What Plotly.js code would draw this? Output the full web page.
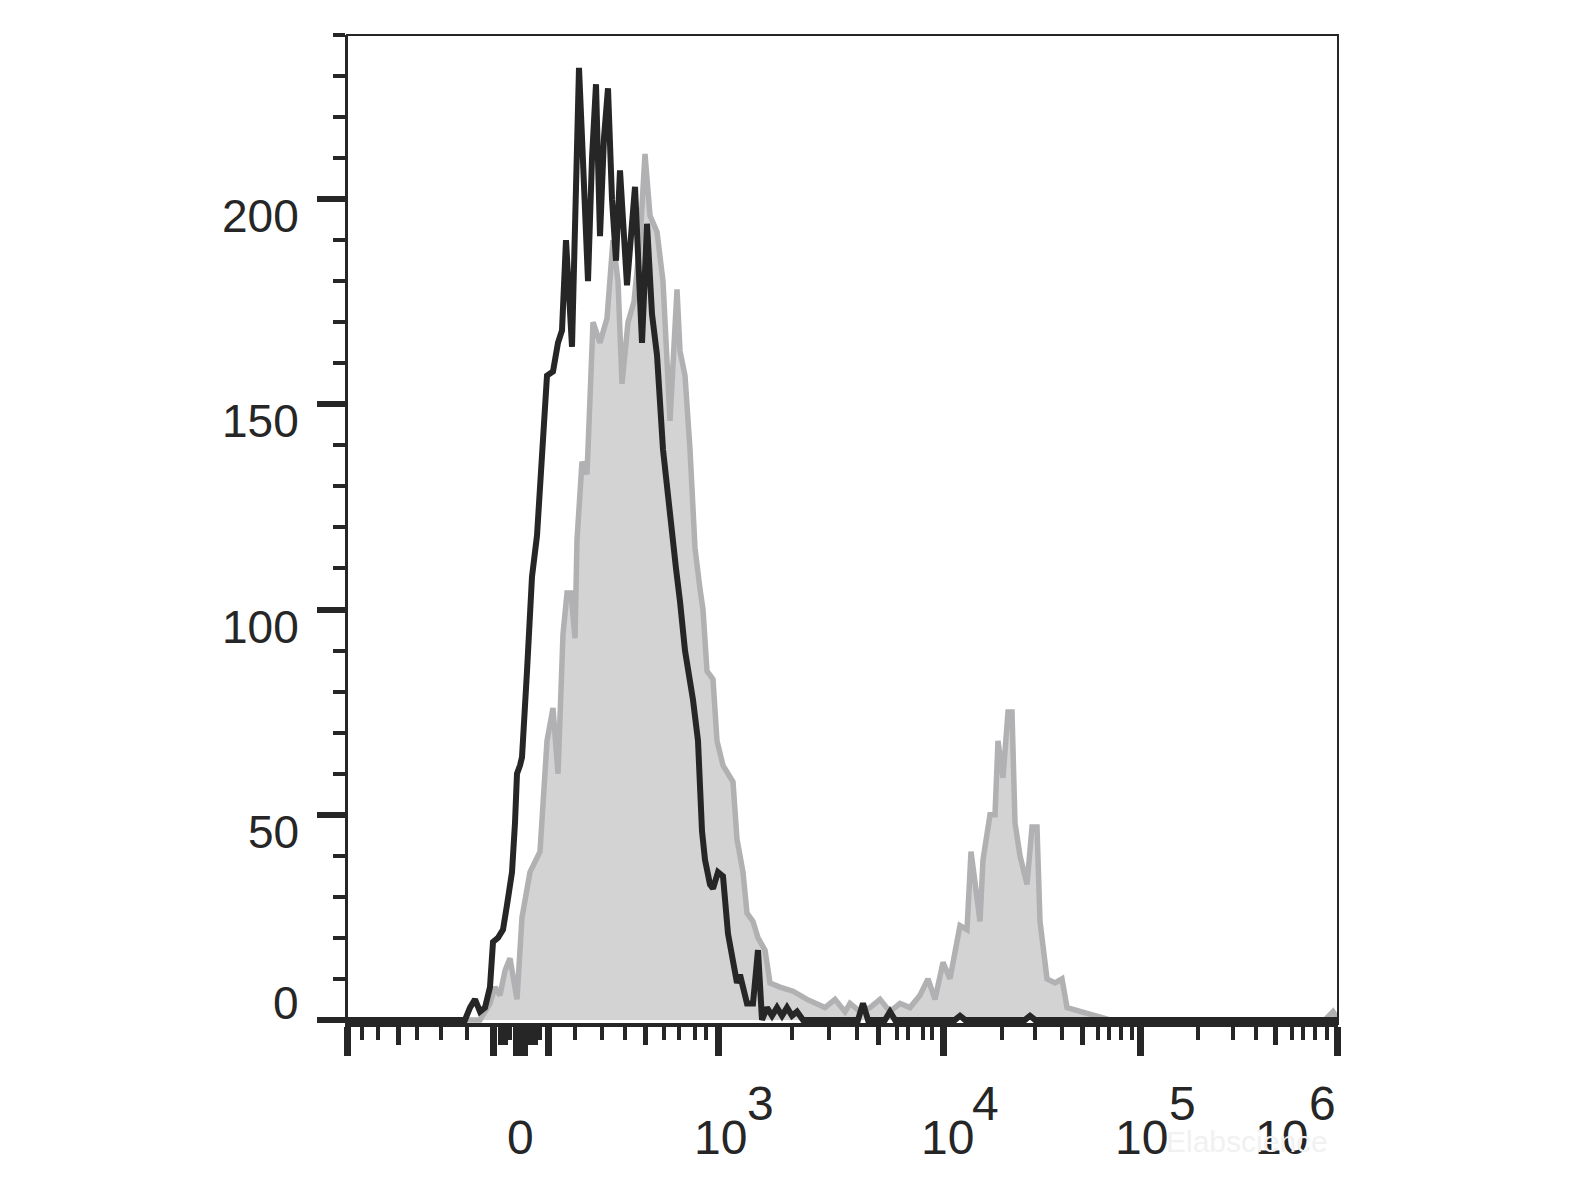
<!DOCTYPE html>
<html>
<head>
<meta charset="utf-8">
<script src="https://cdn.plot.ly/plotly-3.0.1.min.js"></script>
<style>
  html, body { margin: 0; padding: 0; background: #ffffff; }
  #chart { width: 1576px; height: 1182px; }
</style>
</head>
<body>
<div id="chart"></div>
<script>
// ---- Data (x in display channels of the biexponential axis, y = event count) ----
var controlChannel = [0,118,123,128,133,138,143,146,151,156,160,165,168,170,173,175,180,185,190,195,200,206,211,215,219,225,229,232,235,241,245,249,253,257,261,265,269,273,280,288,295,300,305,310,316,323,329,333,338,346,351,355,358,363,366,371,376,381,386,390,393,400,406,411,415,420,425,430,435,440,445,450,456,511,516,521,538,543,548,608,613,618,678,683,688,991];
var controlCount   = [0,0,3,5,2,3,8,19,20,22,28,36,48,60,62,64,85,108,118,140,157,158,165,168,190,164,200,232,215,180,210,228,191,215,227,200,185,207,179,203,165,194,172,162,139,122,110,102,90,78,68,46,39,33,32,36,35,21,14,9,11,4,4,17,0,3,1,3,1,3,1,2,0,0,4,0,0,2,0,0,1,0,0,1,0,0];

var stainedChannel = [0,133,143,148,153,158,163,167,170,175,183,193,200,206,211,216,220,224,228,230,235,240,246,253,260,266,271,275,281,287,293,298,303,310,316,323,330,333,338,343,348,353,356,360,366,370,376,386,390,396,400,406,411,418,423,433,446,460,468,478,488,498,503,513,523,533,543,553,563,573,581,588,596,603,613,620,624,630,633,636,643,648,651,656,661,665,668,673,680,685,690,693,700,708,715,720,733,750,763,978,986,991];
var stainedCount   = [0,0,4,8,6,12,15,8,5,25,36,41,68,76,60,94,104,104,93,117,136,133,170,165,171,190,180,155,170,175,190,211,196,192,180,146,178,163,157,139,115,105,100,85,83,68,62,58,44,36,26,24,20,17,9,8,7,5,4,3,5,2,4,2,3,5,2,4,3,6,10,5,14,10,23,22,41,31,24,39,50,50,68,59,75,75,48,40,33,47,47,24,10,9,10,3,2,1,0,0,2,0];

// ---- Axis ticks ----
var yMajorTicks = [0, 50, 100, 150, 200];
var yTickLabels = ["0", "50", "100", "150", "200"];
var xMajorTicks  = [0,146,169,173,177,201,371,596,793,990];
var xMediumTicks = [51,153,158,183,188,298,531,735,928];
var xMinorTicks  = [15,31,70,94,120,163,193,228,255,278,317,332,348,359,445,482,510,550,561,576,585,655,688,715,751,762,774,785,851,886,909,945,956,968,980];
var xLabelBase   = ["0", "10", "10", "10", "10"];
var xLabelBaseAt = [173, 373, 600, 794, 934];
var xLabelExp    = ["3", "4", "5", "6"];
var xLabelExpAt  = [398, 623, 820, 960];

var ink = '#262626';
var FONT = 'Liberation Sans, Arial, Helvetica, sans-serif';

var traces = [
  {
    x: stainedChannel, y: stainedCount, type: 'scatter', mode: 'lines',
    fill: 'tozeroy', fillcolor: '#d3d3d3',
    line: { color: '#b1b1b3', width: 5.5, shape: 'linear' },
    hoverinfo: 'skip', showlegend: false
  },
  {
    x: controlChannel, y: controlCount, type: 'scatter', mode: 'lines',
    line: { color: ink, width: 6, shape: 'linear' },
    hoverinfo: 'skip', showlegend: false
  }
];

var annotations = [];
yMajorTicks.forEach(function (v, i) {
  annotations.push({
    xref: 'paper', x: 0, xanchor: 'right', xshift: -46,
    yref: 'y', y: v, yanchor: 'middle', yshift: (v === 0 ? 17 : -17),
    text: yTickLabels[i], showarrow: false,
    font: { family: FONT, size: 46, color: ink }
  });
});
xLabelBase.forEach(function (t, i) {
  annotations.push({
    xref: 'x', x: xLabelBaseAt[i], xanchor: 'center',
    yref: 'paper', y: 0, yanchor: 'middle', yshift: -113.5,
    text: t, showarrow: false,
    font: { family: FONT, size: 48, color: ink }
  });
});
xLabelExp.forEach(function (t, i) {
  annotations.push({
    xref: 'x', x: xLabelExpAt[i], xanchor: 'left',
    yref: 'paper', y: 0, yanchor: 'middle', yshift: -79.5,
    text: t, showarrow: false,
    font: { family: FONT, size: 48, color: ink }
  });
});
annotations.push({
  xref: 'paper', x: 1, xanchor: 'right', xshift: -8,
  yref: 'paper', y: 0, yanchor: 'middle', yshift: -117,
  text: 'Elabscience', showarrow: false,
  font: { family: FONT, size: 30, color: '#f1f1f1' }
});

var layout = {
  width: 1576, height: 1182,
  margin: { l: 347, r: 238, t: 35, b: 158, pad: 0 },
  paper_bgcolor: '#ffffff', plot_bgcolor: '#ffffff',
  showlegend: false,
  xaxis: {
    range: [0, 991], showgrid: false, zeroline: false,
    showline: true, linecolor: ink, linewidth: 3,
    ticks: 'outside', tickmode: 'array', tickvals: xMajorTicks,
    ticklen: 29, tickwidth: 7, tickcolor: ink, showticklabels: false,
    minor: { tickmode: 'array', tickvals: xMinorTicks, ticks: 'outside', ticklen: 13, tickwidth: 4, tickcolor: ink, showgrid: false }
  },
  xaxis2: {
    overlaying: 'x', anchor: 'y', side: 'bottom', range: [0, 991],
    showgrid: false, zeroline: false, showline: false,
    ticks: 'outside', tickmode: 'array', tickvals: xMediumTicks,
    ticklen: 20, tickwidth: 5, tickcolor: ink, showticklabels: false
  },
  yaxis: {
    range: [-1, 240], showgrid: false, zeroline: false,
    showline: true, linecolor: ink, linewidth: 2,
    ticks: 'outside', tickmode: 'array', tickvals: yMajorTicks,
    ticklen: 28, tickwidth: 6, tickcolor: ink, showticklabels: false,
    minor: { dtick: 10, tick0: 0, ticks: 'outside', ticklen: 12, tickwidth: 4, tickcolor: ink, showgrid: false }
  },
  shapes: [{
    type: 'rect', xref: 'paper', yref: 'paper', x0: 0, x1: 1, y0: 0, y1: 1,
    line: { color: ink, width: 2 }, fillcolor: 'rgba(0,0,0,0)', layer: 'above'
  }],
  annotations: annotations
};

// invisible trace so xaxis2 is rendered
traces.push({ x: [0, 991], y: [0, 0], xaxis: 'x2', yaxis: 'y', type: 'scatter', mode: 'lines',
  line: { color: 'rgba(0,0,0,0)', width: 0 }, hoverinfo: 'skip', showlegend: false });

Plotly.newPlot('chart', traces, layout, { staticPlot: true, displayModeBar: false });
</script>
</body>
</html>
